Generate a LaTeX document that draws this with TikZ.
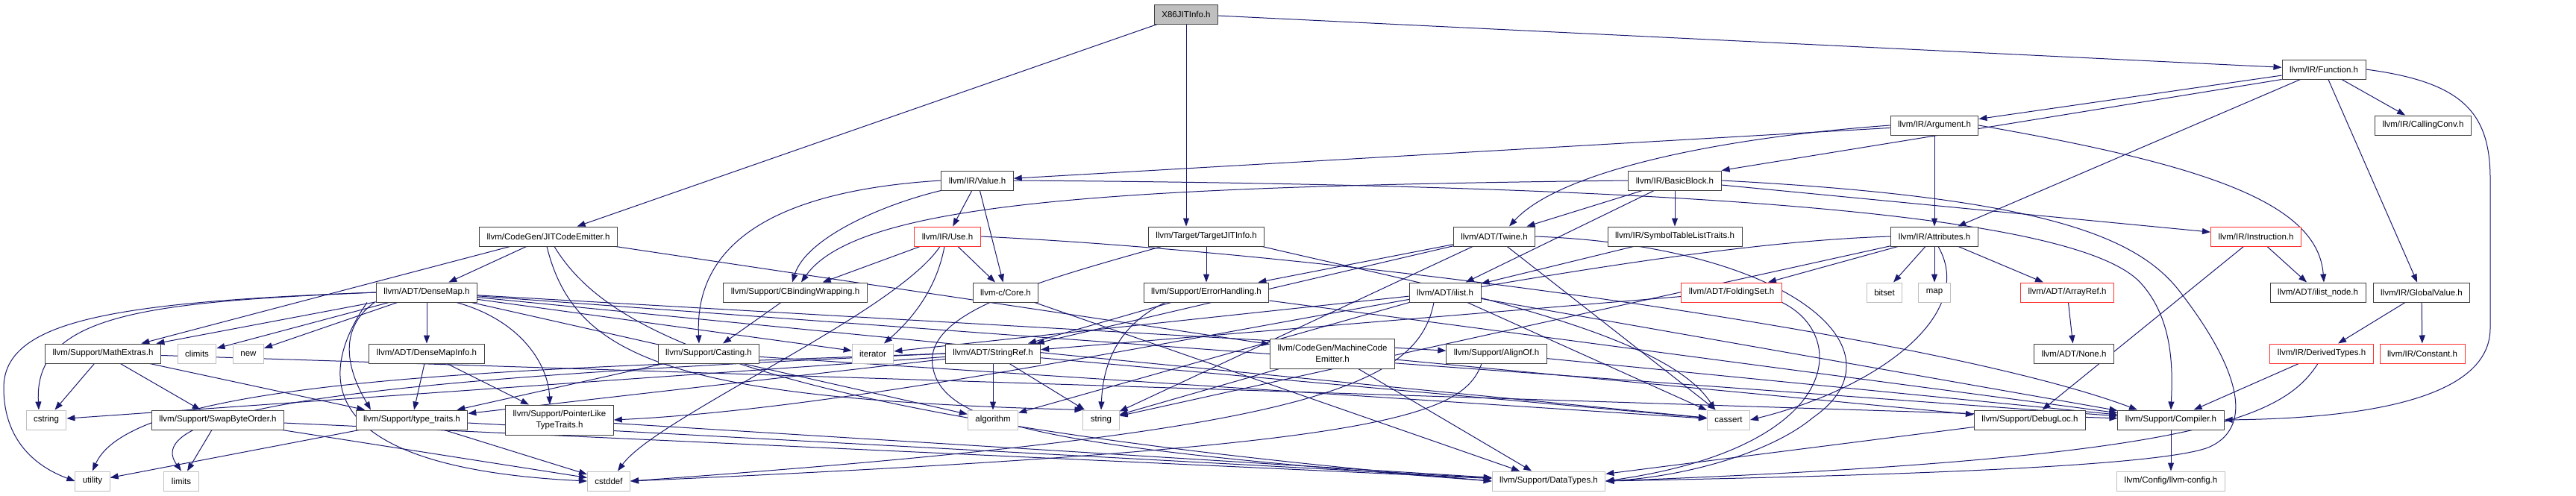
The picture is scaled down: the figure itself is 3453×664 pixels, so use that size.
\documentclass[tikz,border=0pt]{standalone}
\usepackage{fontspec}
\setmainfont{Liberation Sans}
\usetikzlibrary{arrows.meta}
\definecolor{edgeblue}{HTML}{191970}
\definecolor{boxgray}{HTML}{BFBFBF}
\definecolor{boxred}{HTML}{FF3030}
\definecolor{boxline}{HTML}{404040}
\pgfdeclarelayer{bg}
\pgfsetlayers{bg,main}
\tikzset{
  hdr/.style={draw=boxline,line width=1pt,fill=white,font=\fontsize{11.5}{15}\selectfont,inner xsep=10pt,inner ysep=3pt,minimum height=26pt,align=center},
  sysbox/.style={hdr,draw=boxgray},
  redbox/.style={hdr,draw=boxred},
  rootbox/.style={hdr,fill=boxgray},
  dep/.style={-{Triangle[length=11pt,width=8pt]},edgeblue,line width=1pt}
}
\begin{document}
\begin{tikzpicture}[x=1pt,y=-1pt]
\useasboundingbox (0,0) rectangle (3453,664);
% rows from top to bottom
\node[rootbox] (x86jit) at (1590,19) {X86JITInfo.h};
\node[hdr] (func) at (3115,93) {llvm/IR/Function.h};
\node[hdr] (arg) at (2593,168) {llvm/IR/Argument.h};
\node[hdr] (callconv) at (3248,168) {llvm/IR/CallingConv.h};
\node[hdr] (value) at (1310,242) {llvm/IR/Value.h};
\node[hdr] (bblock) at (2245,242) {llvm/IR/BasicBlock.h};
\node[hdr] (jitce) at (735,317) {llvm/CodeGen/JITCodeEmitter.h};
\node[redbox] (use) at (1270,317) {llvm/IR/Use.h};
\node[hdr] (targetjit) at (1617,317) {llvm/Target/TargetJITInfo.h};
\node[hdr] (twine) at (2003,317) {llvm/ADT/Twine.h};
\node[hdr] (symtab) at (2245,317) {llvm/IR/SymbolTableListTraits.h};
\node[hdr] (attrs) at (2593,317) {llvm/IR/Attributes.h};
\node[redbox] (instr) at (3024,317) {llvm/IR/Instruction.h};
\node[hdr] (densemap) at (572,392) {llvm/ADT/DenseMap.h};
\node[hdr] (cbind) at (1066,392) {llvm/Support/CBindingWrapping.h};
\node[hdr] (core) at (1348,392) {llvm-c/Core.h};
\node[hdr] (errh) at (1617,392) {llvm/Support/ErrorHandling.h};
\node[hdr] (ilist) at (1937,392) {llvm/ADT/ilist.h};
\node[redbox] (folding) at (2321,392) {llvm/ADT/FoldingSet.h};
\node[sysbox] (bitset) at (2526,392) {bitset};
\node[sysbox] (map) at (2593,392) {map};
\node[redbox] (arrayref) at (2771,392) {llvm/ADT/ArrayRef.h};
\node[hdr] (ilistnode) at (3107,392) {llvm/ADT/ilist\_node.h};
\node[hdr] (globalval) at (3246,392) {llvm/IR/GlobalValue.h};
\node[hdr] (mathext) at (138,474) {llvm/Support/MathExtras.h};
\node[sysbox] (climits) at (264,474) {climits};
\node[sysbox] (new) at (333,474) {new};
\node[hdr] (densemapinfo) at (572,474) {llvm/ADT/DenseMapInfo.h};
\node[hdr] (casting) at (950,474) {llvm/Support/Casting.h};
\node[sysbox] (iterator) at (1170,474) {iterator};
\node[hdr] (stringref) at (1331,474) {llvm/ADT/StringRef.h};
\node[hdr,minimum height=40pt] (mce) at (1786,474) {llvm/CodeGen/MachineCode\\Emitter.h};
\node[hdr] (alignof) at (2006,474) {llvm/Support/AlignOf.h};
\node[hdr] (none) at (2780,474) {llvm/ADT/None.h};
\node[redbox] (derived) at (3112,474) {llvm/IR/DerivedTypes.h};
\node[redbox] (constant) at (3247,474) {llvm/IR/Constant.h};
\node[sysbox] (cstring) at (62,563) {cstring};
\node[hdr] (swapbo) at (292,563) {llvm/Support/SwapByteOrder.h};
\node[hdr] (typetr) at (552,563) {llvm/Support/type\_traits.h};
\node[hdr,minimum height=40pt] (ptrlike) at (750,563) {llvm/Support/PointerLike\\TypeTraits.h};
\node[sysbox] (algorithm) at (1331,563) {algorithm};
\node[sysbox] (string) at (1476,563) {string};
\node[sysbox] (cassert) at (2317,563) {cassert};
\node[hdr] (debugloc) at (2721,563) {llvm/Support/DebugLoc.h};
\node[hdr] (compiler) at (2910,563) {llvm/Support/Compiler.h};
\node[sysbox] (utility) at (124,645) {utility};
\node[sysbox] (limits) at (243,645) {limits};
\node[sysbox] (cstddef) at (816,645) {cstddef};
\node[sysbox] (datatypes) at (2076,645) {llvm/Support/DataTypes.h};
\node[sysbox] (llvmconfig) at (2910,645) {llvm/Config/llvm-config.h};

\begin{pgfonlayer}{bg}
% straight includes
\foreach \a/\b in {x86jit/jitce, x86jit/func, func/arg, func/attrs, func/callconv, func/globalval,
  arg/value, arg/attrs, bblock/twine, bblock/ilist, bblock/symtab, bblock/instr, value/use, value/core,
  use/cbind, use/core, targetjit/errh, jitce/mathext, jitce/densemap, jitce/mce,
  densemap/densemapinfo, densemap/mathext, densemap/climits, densemap/new, densemap/iterator, densemap/alignof,
  densemap/algorithm, densemap/cassert, densemap/compiler, densemapinfo/typetr, densemapinfo/ptrlike,
  mathext/cstring, mathext/swapbo, mathext/typetr, mathext/compiler, swapbo/limits, swapbo/cstddef, swapbo/datatypes,
  typetr/utility, typetr/cstddef, typetr/datatypes, ptrlike/datatypes, casting/typetr, casting/cassert, cbind/casting,
  core/datatypes, errh/stringref, errh/compiler, stringref/algorithm, stringref/string, stringref/typetr,
  stringref/cstring, stringref/cassert, twine/stringref, twine/errh, twine/string, twine/cassert,
  ilist/compiler, ilist/cassert, ilist/iterator, ilist/algorithm, symtab/ilist, attrs/folding, attrs/bitset,
  attrs/map, attrs/arrayref, attrs/string, arrayref/none, folding/stringref, instr/ilistnode, instr/debugloc,
  globalval/derived, globalval/constant, derived/compiler, compiler/llvmconfig, debugloc/datatypes,
  alignof/compiler, mce/datatypes, mce/debugloc, mce/string}
  \draw[dep] (\a) -- (\b);
\draw[dep] (x86jit.south) -- (x86jit.south |- targetjit.north);
\draw[dep] (func.south west) -- (bblock.north east);
% curved includes
\draw[dep] (func.east) .. controls (3300,110) and (3338,150) .. (3338,240) -- (3338,440) .. controls (3338,540) and (3150,561) .. (compiler.east);
\draw[dep] (arg.west) .. controls (2300,185) and (2090,230) .. ([xshift=20pt]twine.north);
\draw[dep] (arg.east) .. controls (2950,220) and (3107,270) .. ([xshift=8pt]ilistnode.north);
\draw[dep] (bblock.west) .. controls (1500,250) and (1150,270) .. ([xshift=8pt]cbind.north);
\draw[dep] (bblock.east) .. controls (2750,265) and (2870,320) .. (2925,395) .. controls (2990,480) and (3030,570) .. (2960,600) .. controls (2880,630) and (2400,640) .. (datatypes.east);
\draw[dep] (value.south west) .. controls (1180,275) and (1080,320) .. ([xshift=-4pt]cbind.north);
\draw[dep] (value.west) .. controls (1050,255) and (930,320) .. ([xshift=-13pt]casting.north);
\draw[dep] (value.east) .. controls (2300,248) and (2790,290) .. (2870,380) .. controls (2915,430) and (2912,500) .. (compiler.north);
\draw[dep] (use.east) .. controls (1800,340) and (2600,450) .. ([xshift=-45pt]compiler.north);
\draw[dep] ([xshift=-4pt]use.south) .. controls (1255,390) and (1220,430) .. ([xshift=15pt]iterator.north);
\draw[dep] ([xshift=-10pt]use.south) .. controls (1200,420) and (880,560) .. ([xshift=12pt]cstddef.north);
\draw[dep] ([xshift=-60pt]targetjit.south) .. controls (1380,380) and (1240,420) .. (1250,490) .. controls (1262,570) and (1400,600) .. (datatypes.west);
\draw[dep] ([xshift=75pt]targetjit.south) .. controls (1900,380) and (2230,440) .. ([xshift=-18pt]cassert.north);
\draw[dep] ([xshift=-2pt]jitce.south) .. controls (770,480) and (900,535) .. (string.north west);
\draw[dep] ([xshift=8pt]jitce.south) .. controls (810,440) and (1000,560) .. (datatypes.west);
\draw[dep] (densemap.west) .. controls (200,405) and (45,420) .. ([xshift=-10pt]cstring.north);
\draw[dep] (densemap.west) .. controls (150,405) and (5,430) .. (5,520) .. controls (5,600) and (60,630) .. (utility.west);
\draw[dep] ([xshift=-70pt]densemap.south) .. controls (440,450) and (480,520) .. ([xshift=-55pt]typetr.north);
\draw[dep] ([xshift=40pt]densemap.south) .. controls (700,430) and (735,490) .. ([xshift=-13pt]ptrlike.north);
\draw[dep] ([xshift=-80pt]densemap.south) .. controls (400,540) and (480,630) .. (cstddef.west);
\draw[dep] ([xshift=-55pt]errh.south) .. controls (1490,440) and (1478,500) .. (string.north);
\draw[dep] (stringref.west) .. controls (700,495) and (180,505) .. (utility.north);
\draw[dep] (stringref.west) .. controls (700,500) and (170,530) .. (limits.north);
\draw[dep] ([xshift=-15pt]ilist.south) .. controls (1900,520) and (1750,580) .. (cstddef.east);
\draw[dep] ([xshift=-20pt]alignof.south) .. controls (1960,560) and (1850,600) .. (cstddef.east);
\draw[dep] ([xshift=5pt]attrs.south) .. controls (2650,420) and (2520,520) .. (cassert.east);
\draw[dep] (attrs.west) .. controls (2100,330) and (1300,540) .. (ptrlike.east);
\draw[dep] (folding.south east) .. controls (2480,450) and (2470,600) .. (datatypes.east);
\draw[dep] (twine.east) .. controls (2400,330) and (2560,470) .. (2430,560) .. controls (2370,610) and (2250,640) .. (datatypes.east);
\draw[dep] ([xshift=-5pt]derived.south) .. controls (3060,560) and (2950,615) .. (datatypes.east);
\end{pgfonlayer}
\end{tikzpicture}
\end{document}
